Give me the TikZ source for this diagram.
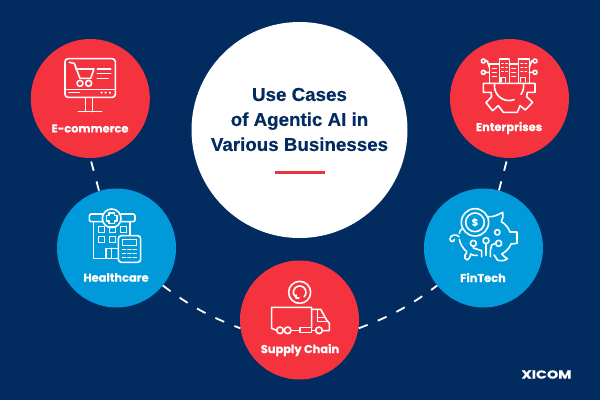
\documentclass[tikz,border=0pt]{standalone}
\usepackage{fontspec}
\setmainfont{Poppins}[BoldFeatures={FakeBold=0.5}]
\newfontfamily\titlefont{Liberation Sans}[BoldFeatures={FakeBold=0.4}]
\definecolor{navy}{HTML}{022B60}
\definecolor{redc}{HTML}{F4333F}
\definecolor{bluec}{HTML}{0099D9}
\definecolor{rule}{HTML}{EE3340}
\tikzset{
  redcirc/.style={circle,fill=redc,minimum size=119pt,inner sep=0pt},
  bluecirc/.style={circle,fill=bluec,minimum size=119pt,inner sep=0pt},
  bigcirc/.style={circle,fill=white,minimum size=216pt,inner sep=0pt},
  lab/.style={text=white,font=\fontsize{11.4}{13}\selectfont\bfseries,inner sep=0pt,anchor=center},
  dashline/.style={draw=white,line width=1.8pt,dash pattern=on 9.6pt off 11pt},
  ic/.style={draw=white,line width=1.6pt,line join=round,line cap=round},
  icfine/.style={draw=white,line width=1.2pt,line cap=round},
}
\begin{document}
\begin{tikzpicture}[x=1pt,y=-1pt]
\useasboundingbox (0,0) rectangle (600,400);
\fill[navy] (0,0) rectangle (600,400);
% circles
\node[redcirc] (ec) at (90.3,98.5) {};
\node[bluecirc] (hc) at (116.5,248) {};
\node[redcirc] (sc) at (299.5,320) {};
\node[bluecirc] (ft) at (483.5,248) {};
\node[redcirc] (en) at (509.5,98.5) {};
\node[bigcirc] (big) at (299.5,130) {};
% connectors
\draw[dashline,dash phase=17.2pt] (ec.270) -- (hc.107);
\draw[dashline] (hc.-39) to[bend right=8] (sc.188);
\draw[dashline] (sc.-8) to[bend right=8] (ft.219);
\draw[dashline,dash phase=17.2pt] (en.268) -- (ft.75);
% title
\node[text=navy,font=\titlefont\fontsize{18.75}{25}\selectfont\bfseries,align=center,inner sep=0pt] (title) at (299.5,119.5) {Use Cases\\of Agentic AI in\\Various Businesses};
\coordinate (ra) at (275,172.3);
\coordinate (rb) at (325,172.3);
\draw[rule,line width=3pt] (ra) -- (rb);
% labels
\node[lab] (l1) at (90,128.5) {E-commerce};
\node[lab] (l2) at (116,277.5) {Healthcare};
\node[lab] (l3) at (300,350) {Supply Chain};
\node[lab] (l4) at (483,277.5) {FinTech};
\node[lab] (l5) at (509,128) {Enterprises};
\node[text=white,font=\fontsize{11.5}{12}\selectfont\bfseries,inner sep=0pt,xscale=1.25] (logo) at (546.5,374.5) {XICOM};
% E-commerce icon
\begin{scope}[shift={(20,40)},x=0.3333pt,y=-0.3333pt]
\draw[ic,rounded corners=3pt] (135,56) rectangle (286,172);
\draw[ic] (135,148) -- (286,148);
\draw[ic] (147,158) -- (178,158);
\foreach \x in {245,257,270} \fill[white] (\x,158) circle[radius=3.5];
\draw[ic] (197,172) -- (197,215) (218,172) -- (218,215) (175,215) -- (245,215);
\draw[ic] (148,67) -- (163,70) -- (180,115) -- (212,115) -- (222,87) -- (167,87);
\draw[ic] (180,130) circle[radius=9] (206,130) circle[radius=9];
\draw[ic] (232,87) -- (272,87) (232,100) -- (272,100) (232,115) -- (265,115);
\end{scope}
% Healthcare icon
\begin{scope}[shift={(50,180)},x=0.3333pt,y=-0.3333pt]
\draw[ic] (130,125) -- (130,235) -- (205,235);
\draw[ic] (240,125) -- (240,165);
\draw[ic,rounded corners=2pt] (157,102) -- (118,102) -- (118,125) -- (255,125) -- (255,102) -- (213,102);
\draw[ic,fill=bluec] (185,115) circle[radius=28];
\draw[ic] (177,99) -- (193,99) -- (193,107) -- (201,107) -- (201,123) -- (193,123) -- (193,131) -- (177,131) -- (177,123) -- (169,123) -- (169,107) -- (177,107) -- cycle;
\foreach \x in {145,178,211} \draw[ic] (\x,140) rectangle +(18,18);
\foreach \x in {145,178} \draw[ic] (\x,170) rectangle +(18,18);
\draw[ic] (168,235) -- (168,205) -- (203,205) (185,205) -- (185,235);
\draw[ic,fill=bluec,rounded corners=3pt] (205,167) rectangle (272,247);
\draw[ic] (217,178) rectangle (260,197);
\foreach \y in {209,221,233} \foreach \x in {217,233,249} \draw[icfine] (\x,\y) -- +(10,0);
\end{scope}
% Supply chain icon
\begin{scope}[shift={(230,260)},x=0.3333pt,y=-0.3333pt]
\draw[ic] (209,97) circle[radius=33];
\draw[ic] (222.4,110.4) arc[start angle=45,end angle=-235,radius=19];
\draw[ic] (198,105) -- (198,114) -- (207,114);
\draw[ic] (140,211) -- (125,205) -- (125,142) -- (245,142) -- (245,203);
\draw[ic] (160,211) -- (163,211) (183,211) -- (210,211);
\draw[ic] (210,203) rectangle (245,217);
\draw[ic] (245,148) -- (272,148) -- (290,180) -- (298,190) -- (298,212) -- (278,212);
\draw[ic] (245,212) -- (257,212);
\draw[ic] (262,148) -- (262,185) -- (290,185);
\draw[ic] (262,172) -- (284,172);
\draw[ic] (150,211) circle[radius=10] (173,211) circle[radius=10] (267,211) circle[radius=10];
\end{scope}
% FinTech icon
\begin{scope}[shift={(420,180)},x=0.3333pt,y=-0.3333pt]
\draw[ic] (205,110) .. controls (220,112) and (232,105) .. (248,97) .. controls (250,108) and (248,118) .. (244,125) .. controls (256,132) and (265,142) .. (270,156) -- (291,156) -- (291,190) -- (273,192) .. controls (268,205) and (258,215) .. (245,222) .. controls (250,230) and (258,232) .. (262,236) .. controls (255,243) and (240,244) .. (232,240) .. controls (228,232) and (225,228) .. (222,225);
\draw[ic] (172,226) .. controls (165,228) and (158,226) .. (152,222) .. controls (150,232) and (147,238) .. (142,240) .. controls (135,238) and (132,232) .. (135,225) .. controls (138,222) and (142,218) .. (140,215) .. controls (128,205) and (120,190) .. (118,178);
\draw[ic] (118,160) .. controls (118,155) and (122,150) .. (126,147);
\draw[ic] (117,170) .. controls (108,160) and (90,165) .. (90,177) .. controls (90,187) and (103,187) .. (103,178);
\draw[ic] (165,127) circle[radius=41] (165,127) circle[radius=28];
\node[text=white,font=\fontsize{10}{10}\selectfont\bfseries,inner sep=0pt] (dollar) at (165,127) {\$};
\draw[ic] (232,157) circle[radius=8];
\draw[ic] (160,190) circle[radius=9] (198,182) circle[radius=9] (236,190) circle[radius=9];
\draw[ic] (198,191) -- (198,226);
\draw[ic] (160,199) -- (160,204) -- (185,212) -- (185,230);
\draw[ic] (227,190) -- (215,195) -- (211,212) -- (211,230);
\end{scope}
% Enterprises icon
\begin{scope}[shift={(440,40)},x=0.3333pt,y=-0.3333pt]
\draw[ic] (130,130) -- (285,130) -- (285,157) -- (262,157) -- (260,170) -- (278,187) -- (256,210) -- (240,197) -- (232,217) -- (190,217) -- (175,197) -- (158,212) -- (138,188) -- (155,170) -- (153,157) -- (130,157) -- cycle;
\draw[ic] (164,130) arc[start angle=190,end angle=70,radius=44];
\draw[ic] (243,163) arc[start angle=35,end angle=-10,radius=44];
\draw[ic] (148,130) -- (148,72) -- (178,72) (178,130) -- (178,57) -- (208,57) -- (208,130);
\draw[ic] (208,72) -- (235,72) -- (235,130) (235,57) -- (268,57) -- (268,130) (235,57) -- (235,72);
\draw[ic] (183,125) -- (183,112) -- (197,112) -- (197,125);
\draw[ic] (242,125) -- (242,112) -- (256,112) -- (256,125);
\foreach \y in {70,82,94} \foreach \x in {185,197} \draw[icfine] (\x,\y) -- +(5,0);
\foreach \y in {70,82,94} \foreach \x in {243,255} \draw[icfine] (\x,\y) -- +(5,0);
\foreach \y in {85,97,109} \draw[icfine] (157,\y) -- +(12,0);
\foreach \y in {85,97,109} \draw[icfine] (215,\y) -- +(12,0);
\draw[ic] (130,63) circle[radius=6] (130,97) circle[radius=6] (285,63) circle[radius=6] (285,97) circle[radius=6];
\draw[ic] (136,63) -- (142,63) -- (148,82) (136,97) -- (148,97);
\draw[ic] (279,63) -- (275,63) -- (268,82) (279,97) -- (268,97);
\end{scope}
\end{tikzpicture}
\end{document}
